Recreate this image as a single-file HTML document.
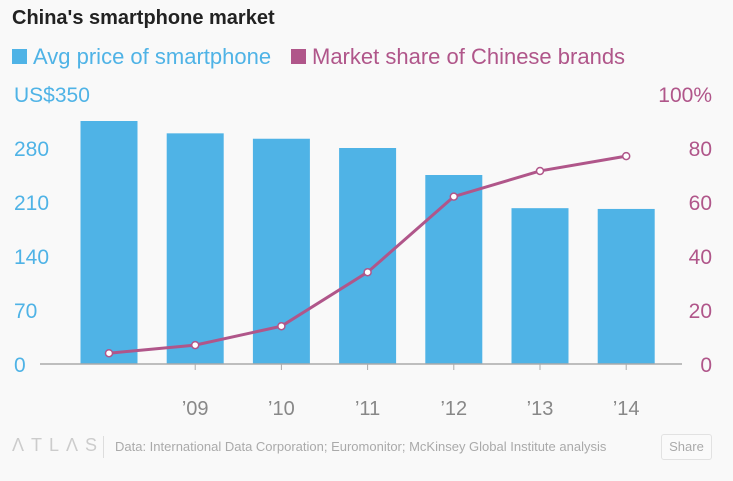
<!DOCTYPE html>
<html><head><meta charset="utf-8"><style>
body{margin:0;width:733px;height:481px;background:#f9f9f9;font-family:"Liberation Sans",sans-serif;overflow:hidden;position:relative}
.t{position:absolute;white-space:nowrap}
</style></head><body>
<div class="t" style="left:12px;top:7px;font-size:20px;font-weight:bold;color:#222">China's smartphone market</div>
<div class="t" style="left:12px;top:44px;font-size:22px;color:#4fb3e6"><span style="display:inline-block;width:15px;height:15px;background:#4fb3e6;margin-right:6px"></span>Avg price of smartphone</div>
<div class="t" style="left:291px;top:44px;font-size:22px;color:#b0568a"><span style="display:inline-block;width:15px;height:15px;background:#b0568a;margin-right:6px"></span>Market share of Chinese brands</div>
<svg id="c" width="733" height="481" style="position:absolute;left:0;top:0"></svg>
<div class="t" style="left:12px;top:435px;font-size:18px;letter-spacing:7px;color:#ccc">ΛTLΛS</div>
<div style="position:absolute;left:103px;top:436px;width:1px;height:22px;background:#ddd"></div>
<div class="t" style="left:115px;top:439px;font-size:13px;color:#aaa">Data: International Data Corporation; Euromonitor; McKinsey Global Institute analysis</div>
<div class="t" style="left:661px;top:434px;width:49px;height:24px;border:1px solid #e2e2e2;border-radius:3px;font-size:13px;color:#aaa;text-align:center;line-height:24px;background:#fafafa">Share</div>
<script>
const categories=['2008','2009','2010','2011','2012','2013','2014'];
const xLabels=['',"’09","’10","’11","’12","’13","’14"];
const prices=[315,299,292,280,245,202,201];
const shares=[4,7,14,34,62,71.5,77];
const leftTicks=[0,70,140,210,280,350];
const rightTicks=[0,20,40,60,80,100];
const NS='http://www.w3.org/2000/svg';
const svg=document.getElementById('c');
const y0=364,y1=94;
const yL=v=>y0-(v/350)*(y0-y1);
const yR=v=>y0-(v/100)*(y0-y1);
const xC=i=>109+i*86.2;
function mk(t,a){const e=document.createElementNS(NS,t);for(const k in a)e.setAttribute(k,a[k]);svg.appendChild(e);return e;}
leftTicks.forEach((v,i)=>{const e=mk('text',{x:14,y:yL(v)+8,'font-size':21,fill:'#4fb3e6'});e.textContent=(i==leftTicks.length-1?'US$':'')+v;

});
rightTicks.forEach((v,i)=>{const e=mk('text',{x:712,y:yR(v)+8,'font-size':21,fill:'#b0568a','text-anchor':'end'});e.textContent=v+(i==rightTicks.length-1?'%':'');

});
prices.forEach((p,i)=>{const e=mk('rect',{x:xC(i)-28.5,y:yL(p),width:57,height:y0-yL(p),fill:'#4fb3e6'});

});
const base=mk('line',{x1:40,x2:682,y1:y0,y2:y0,stroke:'#aaa','stroke-width':1.5});


xLabels.forEach((l,i)=>{if(!l)return;const e=mk('text',{x:xC(i),y:415,'font-size':20,fill:'#888','text-anchor':'middle'});e.textContent=l;


const tk=mk('line',{x1:xC(i),x2:xC(i),y1:y0,y2:y0+6,stroke:'#aaa'});

});
const pl=mk('polyline',{points:shares.map((s,i)=>xC(i)+','+yR(s)).join(' '),fill:'none',stroke:'#b0568a','stroke-width':3});


shares.forEach((s,i)=>{const e=mk('circle',{cx:xC(i),cy:yR(s),r:3.5,fill:'#fff',stroke:'#b0568a','stroke-width':1.5});

});
</script>
</body></html>
